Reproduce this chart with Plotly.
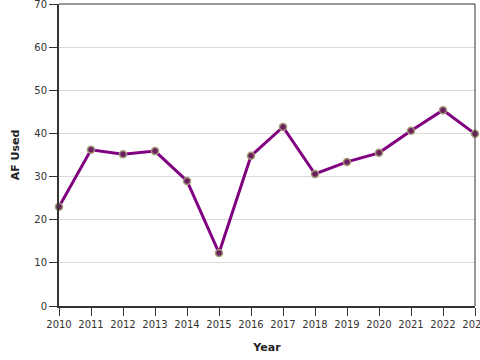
import plotly.graph_objects as go

years = [2010, 2011, 2012, 2013, 2014, 2015, 2016, 2017, 2018, 2019, 2020, 2021, 2022, 2023]
af_used = [23.0, 36.2, 35.2, 35.9, 29.0, 12.3, 34.8, 41.5, 30.6, 33.4, 35.5, 40.6, 45.4, 39.9]

fig = go.Figure()
fig.add_trace(go.Scatter(
    x=years, y=af_used, mode="lines+markers",
    line=dict(color="#800080", width=3),
    marker=dict(size=7, color="#6b1f5f", line=dict(color="#a39a78", width=1.5)),
    showlegend=False, cliponaxis=False,
))

fig.update_layout(
    width=480, height=360,
    margin=dict(l=59, r=5, t=4, b=54),
    plot_bgcolor="white", paper_bgcolor="white",
    font=dict(family="DejaVu Sans", size=10, color="#333333"),
    xaxis=dict(
        range=[2010, 2023], dtick=1, tick0=2010, automargin=False,
        ticklabeloverflow="allow",
        showgrid=False, zeroline=False,
        showline=True, linecolor="#333333", linewidth=2,
        ticks="outside", ticklen=8, tickcolor="#333333",
        title=dict(text="<b>Year</b>", font=dict(size=11, color="#222222"), standoff=14),
    ),
    yaxis=dict(
        range=[0, 70], dtick=10, automargin=False,
        ticklabeloverflow="allow",
        showgrid=True, gridcolor="#d9d9d9", zeroline=False,
        showline=True, linecolor="#333333", linewidth=2,
        ticks="outside", ticklen=8, tickcolor="#333333",
        title=dict(text="<b>AF Used</b>", font=dict(size=11, color="#222222"), standoff=12),
    ),
    shapes=[
        dict(type="line", xref="paper", yref="paper", x0=0, x1=1, y0=1, y1=1,
             line=dict(color="#333333", width=1)),
        dict(type="line", xref="paper", yref="paper", x0=1, x1=1, y0=0, y1=1,
             line=dict(color="#333333", width=1)),
    ],
)

fig.write_html("out.html", config={"displayModeBar": False},
               post_script="document.body.style.margin='0';")
